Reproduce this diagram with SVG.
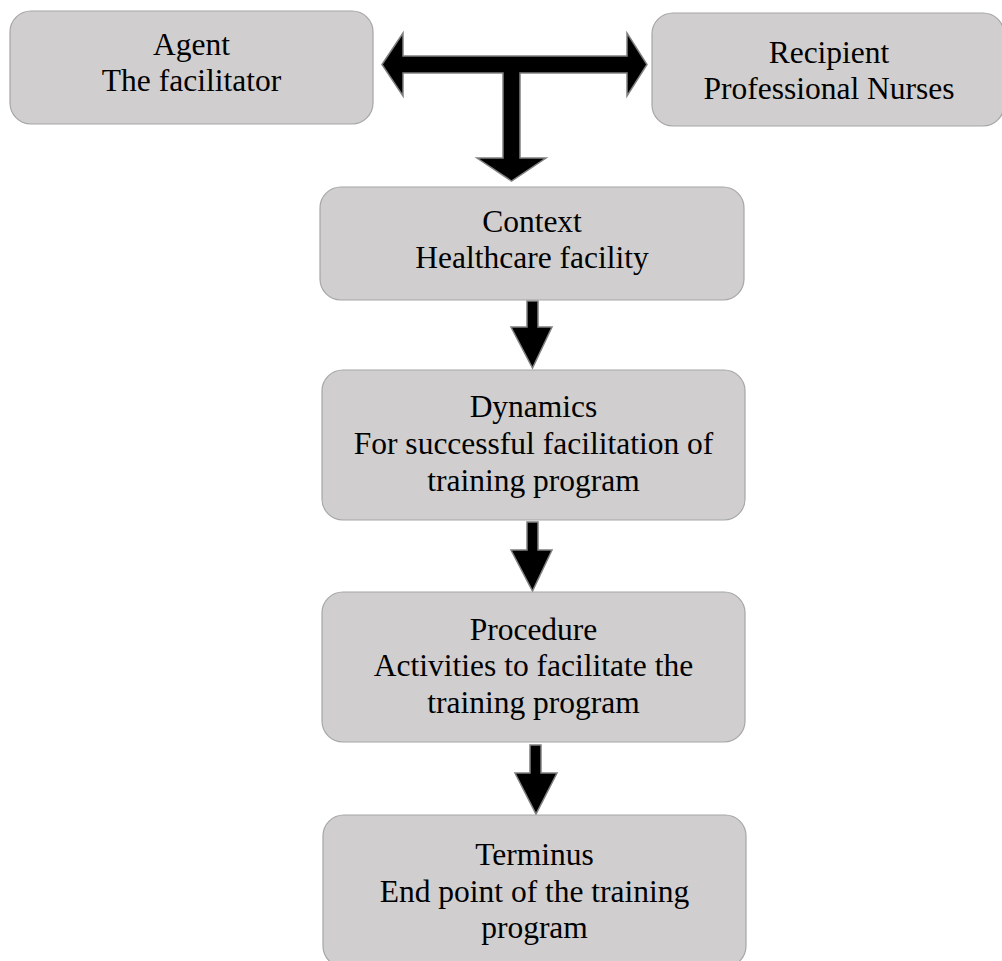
<svg xmlns="http://www.w3.org/2000/svg" width="1002" height="961" viewBox="0 0 1002 961">
  <style>
    .box { fill: #d0cece; stroke: #a6a6a6; stroke-width: 1.2; }
    .lbl { font-family: "Liberation Serif", "Times New Roman", serif; font-size: 31.5px; fill: #000; text-anchor: middle; }
    .arrow { fill: #000; stroke: #808080; stroke-width: 1.5; stroke-linejoin: miter; }
  </style>
  <rect width="1002" height="961" fill="#fff"/>

  <g id="connectors">
    <!-- double-headed arrow between Agent and Recipient with a branch down to Context -->
    <path class="arrow" d="M382,64.5 L403,33 L403,56 L627,56 L627,33 L647,64.5 L627,96 L627,73 L520,73 L520,158 L546,158 L511.5,181 L477,158 L503,158 L503,73 L403,73 L403,96 Z"/>
    <!-- Context to Dynamics -->
    <path class="arrow" d="M527,301 L538,301 L538,327 L552,327 L532.5,368 L511,327 L527,327 Z"/>
    <!-- Dynamics to Procedure -->
    <path class="arrow" d="M527,522 L538,522 L538,550 L552,550 L532.5,591 L511,550 L527,550 Z"/>
    <!-- Procedure to Terminus -->
    <path class="arrow" d="M530,745 L541,745 L541,773 L557,773 L536,814 L515,773 L530,773 Z"/>
  </g>

  <g id="agent">
    <rect class="box" x="10" y="11" width="363" height="113" rx="21"/>
    <text class="lbl" x="191.5" y="55">Agent</text>
    <text class="lbl" x="191.5" y="91">The facilitator</text>
  </g>

  <g id="recipient">
    <rect class="box" x="652" y="13" width="352" height="113" rx="21"/>
    <text class="lbl" x="829" y="63">Recipient</text>
    <text class="lbl" x="829" y="99">Professional Nurses</text>
  </g>

  <g id="context">
    <rect class="box" x="320" y="187" width="424" height="113" rx="21"/>
    <text class="lbl" x="532" y="232">Context</text>
    <text class="lbl" x="532" y="268">Healthcare facility</text>
  </g>

  <g id="dynamics">
    <rect class="box" x="322" y="370" width="423" height="150" rx="21"/>
    <text class="lbl" x="533.5" y="417">Dynamics</text>
    <text class="lbl" x="533.5" y="454">For successful facilitation of</text>
    <text class="lbl" x="533.5" y="491">training program</text>
  </g>

  <g id="procedure">
    <rect class="box" x="322" y="592" width="423" height="150" rx="21"/>
    <text class="lbl" x="533.5" y="640">Procedure</text>
    <text class="lbl" x="533.5" y="676">Activities to facilitate the</text>
    <text class="lbl" x="533.5" y="713">training program</text>
  </g>

  <g id="terminus">
    <rect class="box" x="323" y="815" width="423" height="152" rx="21"/>
    <text class="lbl" x="534.5" y="865">Terminus</text>
    <text class="lbl" x="534.5" y="902">End point of the training</text>
    <text class="lbl" x="534.5" y="938">program</text>
  </g>
</svg>
